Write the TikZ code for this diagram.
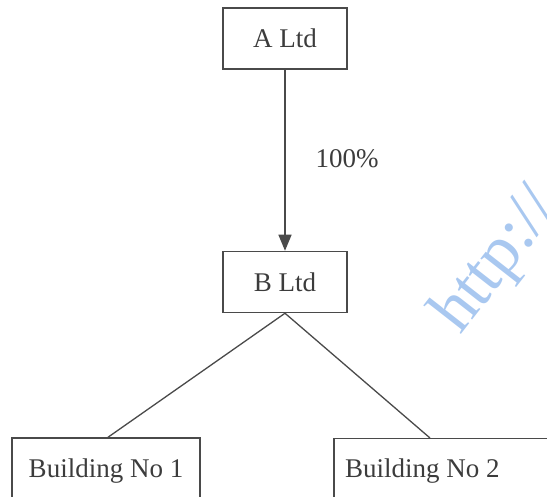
\documentclass[tikz,border=0pt]{standalone}
\usepackage{fontspec}
\setmainfont{Liberation Serif}
\usetikzlibrary{arrows.meta,calc}
\definecolor{ink}{HTML}{4A4A4A}
\definecolor{txt}{HTML}{3C3C3C}
\definecolor{wm}{HTML}{A9C8F0}
\tikzset{
  box/.style={draw=ink, line width=1.5pt, rectangle, inner sep=0pt, text=txt,
    font=\fontsize{27}{31}\selectfont},
  conn/.style={draw=ink, line width=1.3pt},
}
\begin{document}
\begin{tikzpicture}[x=1pt,y=-1pt]
\useasboundingbox (0,0) rectangle (547,497);
\clip (-10,-10) rectangle (570,520);
\node[rotate=52, anchor=base west, inner sep=0pt, text=wm, font=\fontsize{68}{68}\selectfont] (wmark) at (460,336) {http://};
\node[box, minimum width=124pt, minimum height=61pt] (a) at (285,38.5) {A Ltd};
\node[box, minimum width=124pt, minimum height=61pt] (b) at (285,282) {B Ltd};
\node[box, minimum width=188pt, minimum height=66pt] (b1) at (106,471) {Building No 1};
\node[box, minimum width=300pt, minimum height=66pt, anchor=north west] (b2) at (333,438) {};
\node[anchor=base west, text=txt, font=\fontsize{27}{31}\selectfont, inner sep=0pt] (b2t) at (345,478) {Building No 2};
\draw[conn, -{Triangle[length=16pt,width=13pt]}] (a.south) -- (b.north);
\node[text=txt, font=\fontsize{27}{31}\selectfont] (pct) at (347,159) {100\%};
\draw[conn] (b.south) -- ([xshift=2pt]b1.north);
\draw[conn] (b.south) -- ([xshift=97pt]b2.north west);
\end{tikzpicture}
\end{document}
